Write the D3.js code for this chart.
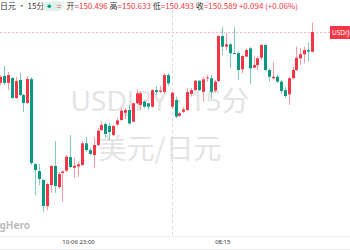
<!DOCTYPE html>
<html><head><meta charset="utf-8">
<script src="https://cdn.jsdelivr.net/npm/d3@7"></script>
<style>html,body{margin:0;padding:0;background:#fff;overflow:hidden}svg{display:block}</style>
</head><body>
<svg id="c" width="350" height="250"></svg>
<script>
// 15-minute USD/JPY candles, 10-06 18:00 .. 10-07 14:00 (index = candle number)
const open  = [150.349,150.382,150.349,150.372,150.278,150.363,150.292,150.254,150.367,149.966,
               149.933,149.891,149.768,149.867,149.957,149.858,149.924,149.935,149.999,149.949,
               149.955,149.962,150.064,150.032,150.009,150.056,150.127,150.155,150.146,150.103,
               150.153,150.174,150.208,150.221,150.166,150.253,150.245,150.260,150.253,150.237,
               150.315,150.307,150.307,150.386,150.237,150.268,150.194,150.213,150.221,150.297,
               150.315,150.359,150.307,150.371,150.371,150.312,150.358,150.570,150.520,150.531,
               150.490,150.489,150.413,150.473,150.512,150.421,150.433,150.468,150.528,150.410,
               150.371,150.378,150.355,150.315,150.295,150.371,150.410,150.465,150.484,150.504,
               150.496];
const high  = [150.386,150.429,150.400,150.377,150.377,150.397,150.297,150.382,150.377,149.971,
               149.966,149.896,149.877,149.962,150.075,149.929,149.938,150.009,150.103,149.995,
               149.977,150.072,150.094,150.042,150.092,150.135,150.166,150.161,150.160,150.150,
               150.183,150.229,150.232,150.245,150.254,150.319,150.307,150.268,150.254,150.320,
               150.334,150.334,150.394,150.396,150.307,150.284,150.212,150.234,150.325,150.324,
               150.363,150.363,150.378,150.386,150.386,150.363,150.575,150.614,150.584,150.537,
               150.614,150.496,150.481,150.512,150.520,150.473,150.473,150.531,150.531,150.418,
               150.449,150.386,150.363,150.331,150.378,150.425,150.520,150.512,150.520,150.540,
               150.633];
const low   = [150.339,150.339,150.315,150.273,150.273,150.287,150.212,150.249,149.962,149.820,
               149.867,149.740,149.749,149.830,149.830,149.849,149.787,149.929,149.948,149.900,
               149.907,149.957,150.024,150.009,149.946,150.051,150.122,150.092,150.080,150.098,
               150.146,150.169,150.177,150.150,150.165,150.249,150.221,150.229,150.221,150.231,
               150.292,150.300,150.301,150.334,150.229,150.182,150.188,150.207,150.216,150.284,
               150.311,150.311,150.260,150.355,150.276,150.306,150.353,150.481,150.504,150.418,
               150.485,150.363,150.394,150.471,150.342,150.418,150.410,150.457,150.405,150.355,
               150.367,150.349,150.300,150.278,150.245,150.367,150.405,150.433,150.441,150.449,
               150.493];
const close = [150.377,150.349,150.386,150.278,150.358,150.292,150.254,150.367,149.971,149.938,
               149.896,149.768,149.872,149.957,149.863,149.919,149.931,150.001,149.952,149.958,
               149.965,150.064,150.032,150.014,150.056,150.124,150.150,150.108,150.117,150.146,
               150.172,150.218,150.221,150.158,150.253,150.300,150.300,150.237,150.237,150.315,
               150.306,150.313,150.386,150.347,150.303,150.190,150.206,150.224,150.306,150.315,
               150.359,150.315,150.366,150.375,150.307,150.355,150.570,150.520,150.531,150.489,
               150.488,150.410,150.476,150.504,150.418,150.433,150.465,150.528,150.410,150.378,
               150.378,150.355,150.311,150.287,150.371,150.410,150.468,150.484,150.504,150.497,
               150.589];
const tickIdx    = [20, 57];
const tickLabels = ["10-06 23:00", "08:15"];
const sessionIdx = 44;           // 05:00 day boundary
const lastPrice  = 150.589;
const headerOHLC = [["开","150.496"],["高","150.633"],["低","150.493"],["收","150.589"]];
const changeText = "+0.094 (+0.06%)";

const UP = "#f23645", DOWN = "#089981";
const svg = d3.select("#c");
const W = 350, H = 250;
const x = d3.scaleLinear().domain([0, 80]).range([0, 312]);
const y = d3.scaleLinear().domain([149.5, 150.75]).range([262.9, -2.1]);
const axisY = 236;

svg.append("defs").append("clipPath").attr("id","plot")
  .append("rect").attr("x",0).attr("y",12).attr("width",330).attr("height",axisY-12);

// watermark
const wm = svg.append("g").attr("fill","#e4e4e4").attr("text-anchor","middle")
  .style("font-family","'Noto Sans','Noto Sans CJK SC',sans-serif");
wm.append("text").attr("x",160).attr("y",111).attr("font-size",28).text("USDJPY · 15分");
wm.append("text").attr("x",160).attr("y",159).attr("font-size",28)
  .style("font-family","'Noto Sans CJK SC',sans-serif").text("美元/日元");
svg.append("text").attr("x",30).attr("y",228.5).attr("text-anchor","end")
  .attr("font-size",10).attr("font-weight","bold").attr("fill","#bdbdbd")
  .style("font-family","'Noto Sans',sans-serif").text("TradingHero");

// session separator
svg.append("line").attr("x1",Math.round(x(sessionIdx))+0.5).attr("x2",Math.round(x(sessionIdx))+0.5)
  .attr("y1",10).attr("y2",axisY).attr("stroke","#d8d8d8").attr("stroke-dasharray","3,3");

// last price line
const py = Math.round(y(lastPrice))+0.5;
svg.append("line").attr("x1",0).attr("x2",330).attr("y1",py).attr("y2",py)
  .attr("stroke","#f7b8bd").attr("stroke-dasharray","2,2");

// candles
const idx = d3.range(open.length);
const g = svg.append("g").attr("clip-path","url(#plot)");
const cg = g.selectAll("g.k").data(idx).join("g").attr("class","k");
cg.append("line")
  .attr("x1",i=>Math.round(x(i))+0.5).attr("x2",i=>Math.round(x(i))+0.5)
  .attr("y1",i=>y(high[i])).attr("y2",i=>y(low[i]))
  .attr("stroke",i=>close[i]>=open[i]?UP:DOWN).attr("stroke-opacity",0.5).attr("stroke-width",1);
cg.append("rect")
  .attr("x",i=>Math.round(x(i))-1).attr("width",3)
  .attr("y",i=>y(Math.max(open[i],close[i])))
  .attr("height",i=>Math.max(1,Math.abs(y(open[i])-y(close[i]))))
  .attr("fill",i=>close[i]>=open[i]?UP:DOWN);

// price label
svg.append("rect").attr("x",330).attr("y",py-6.5).attr("width",24).attr("height",13).attr("fill",UP);
svg.append("text").attr("x",332).attr("y",py+2.5).attr("font-size",6.5).attr("fill","#fff")
  .style("font-family","'Noto Sans',sans-serif").text("USD/JPY");

// x axis
svg.append("line").attr("x1",0).attr("x2",W).attr("y1",axisY+0.5).attr("y2",axisY+0.5).attr("stroke","#ececec");
svg.append("line").attr("x1",0).attr("x2",W).attr("y1",249.5).attr("y2",249.5).attr("stroke","#ececec");
const ax = d3.axisBottom(x).tickValues(tickIdx).tickFormat((d,k)=>tickLabels[k]).tickSize(0).tickPadding(4);
const axg = svg.append("g").attr("transform",`translate(0,${axisY})`).call(ax);
axg.select(".domain").remove();
axg.selectAll("text").attr("font-size",6).attr("fill","#333").style("font-family","'Noto Sans',sans-serif");

// header
const hf = "'Noto Sans CJK SC','Noto Sans',sans-serif";
svg.append("text").attr("x",0).attr("y",9.3).attr("font-size",8).attr("fill","#333")
  .style("font-family",hf).text("日元 · 15分 ·");
svg.append("rect").attr("x",43).attr("y",1.5).attr("width",20.5).attr("height",9.5).attr("rx",4.7).attr("fill","#dcf1ec");
svg.append("circle").attr("cx",49.3).attr("cy",6.2).attr("r",1.8).attr("fill",DOWN);
svg.append("text").attr("x",59).attr("y",9.2).attr("text-anchor","middle").attr("font-size",8)
  .attr("fill",UP).style("font-family",hf).text("=");
const ht = svg.append("text").attr("x",66.5).attr("y",9.3).attr("font-size",8).style("font-family",hf);
headerOHLC.forEach(([k,v],j)=>{
  ht.append("tspan").attr("fill","#333").text((j?" ":"")+k);
  ht.append("tspan").attr("fill",UP).text("="+v);
});
ht.append("tspan").attr("fill",UP).text(" "+changeText);
</script>
</body></html>
